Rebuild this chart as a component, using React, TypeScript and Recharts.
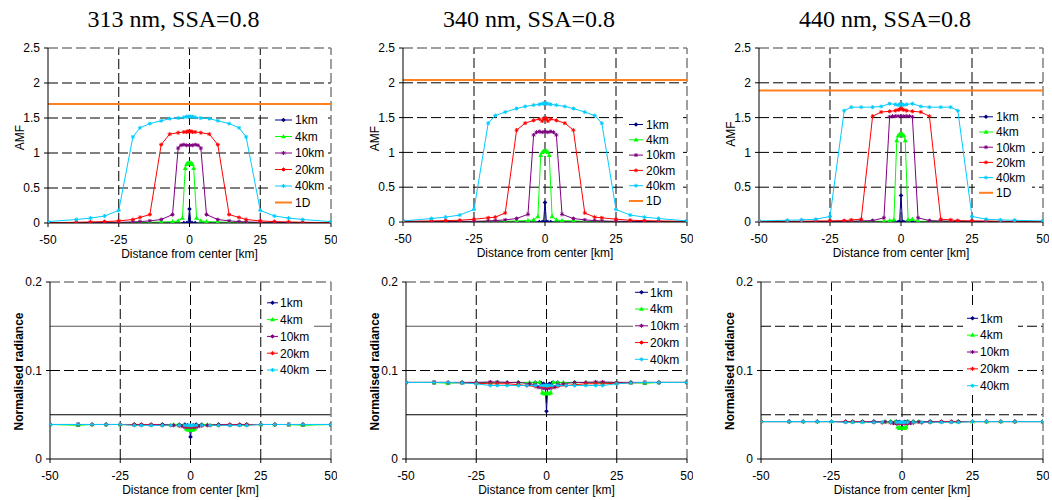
import React from 'react';
import { LineChart, Line, XAxis, YAxis, ReferenceLine } from 'recharts';

// ---------------- text ----------------
const TITLES = ['313 nm, SSA=0.8', '340 nm, SSA=0.8', '440 nm, SSA=0.8'];
const SERIES_NAMES = ['1km', '4km', '10km', '20km', '40km'];
const ONE_D_NAME = '1D';
const X_LABEL = 'Distance from center [km]';
const AMF_LABEL = 'AMF';
const RAD_LABEL = 'Normalised radiance';

// ---------------- ticks / grid ----------------
const X_TICKS = [-50, -25, 0, 25, 50];
const X_GRID = [-25, 0, 25];
const AMF_TICKS = [0, 0.5, 1, 1.5, 2, 2.5];
const AMF_GRID = [0.5, 1, 1.5, 2];
const RAD_TICKS = [0, 0.1, 0.2];
const RAD_GRID = [0.05, 0.1, 0.15];

// ---------------- x positions of each series (km) ----------------
const X_1KM = [-50, -40, -30, -20, -10, -4, -2, -1, -0.5, 0, 0.5, 1, 2, 4, 10, 20, 30, 40, 50];
const X_4KM = [-50, -40, -35, -30, -25, -20, -17.5, -14, -10, -6, -4, -2.5, -1.5, -1, -0.5, 0, 0.5, 1, 1.5, 2.5, 4, 6, 10, 14, 17.5, 20, 25, 30, 35, 40, 50];
const X_10KM = [-50, -40, -35, -30, -25, -20, -17.5, -14, -10, -6, -4, -3, -2, -1, 0, 1, 2, 3, 4, 6, 10, 14, 17.5, 20, 25, 30, 35, 40, 50];
const X_20KM = [-50, -40, -35, -30, -25, -20, -17.5, -14, -10, -7, -4, -2, -1, -0.5, 0, 0.5, 1, 2, 4, 7, 10, 14, 17.5, 20, 25, 30, 35, 40, 50];
const X_40KM = [-50, -40, -35, -30, -25, -20, -17.5, -14, -10, -7, -4, -2, -1, -0.5, 0, 0.5, 1, 2, 4, 7, 10, 14, 17.5, 20, 25, 30, 35, 40, 50];

// ---------------- AMF, 313 nm ----------------
const AMF313_1KM = [0, 0, 0, 0, 0, 0, 0, 0, 0, 0.2, 0, 0, 0, 0, 0, 0, 0, 0, 0];
const AMF313_4KM = [0, 0.005, 0.005, 0.005, 0.005, 0.01, 0.01, 0.01, 0.015, 0.02, 0.03, 0.07, 0.78, 0.84, 0.86, 0.86, 0.86, 0.84, 0.78, 0.07, 0.03, 0.02, 0.015, 0.01, 0.01, 0.01, 0.005, 0.005, 0.005, 0.005, 0];
const AMF313_10KM = [0, 0.005, 0.005, 0.01, 0.01, 0.015, 0.02, 0.03, 0.05, 0.12, 1.07, 1.11, 1.12, 1.11, 1.11, 1.11, 1.12, 1.11, 1.07, 0.12, 0.05, 0.03, 0.02, 0.015, 0.01, 0.01, 0.005, 0.005, 0];
const AMF313_20KM = [0.005, 0.01, 0.015, 0.02, 0.03, 0.05, 0.08, 0.12, 1.12, 1.27, 1.29, 1.3, 1.3, 1.31, 1.31, 1.31, 1.3, 1.3, 1.29, 1.27, 1.12, 0.12, 0.08, 0.05, 0.03, 0.02, 0.015, 0.01, 0.005];
const AMF313_40KM = [0.02, 0.05, 0.07, 0.1, 0.18, 1.23, 1.36, 1.42, 1.46, 1.49, 1.5, 1.51, 1.52, 1.52, 1.52, 1.52, 1.52, 1.51, 1.5, 1.49, 1.46, 1.42, 1.36, 1.23, 0.18, 0.1, 0.07, 0.05, 0.02];

// ---------------- AMF, 340 nm ----------------
const AMF340_1KM = [0, 0, 0, 0, 0, 0, 0, 0, 0, 0.28, 0, 0, 0, 0, 0, 0, 0, 0, 0];
const AMF340_4KM = [0, 0.005, 0.005, 0.005, 0.005, 0.01, 0.01, 0.01, 0.015, 0.02, 0.03, 0.08, 0.96, 1.0, 1.02, 1.02, 1.02, 1.0, 0.96, 0.08, 0.03, 0.02, 0.015, 0.01, 0.01, 0.01, 0.005, 0.005, 0.005, 0.005, 0];
const AMF340_10KM = [0, 0.005, 0.005, 0.01, 0.01, 0.015, 0.02, 0.03, 0.05, 0.11, 1.25, 1.29, 1.3, 1.29, 1.3, 1.29, 1.3, 1.29, 1.25, 0.11, 0.05, 0.03, 0.02, 0.015, 0.01, 0.01, 0.005, 0.005, 0];
const AMF340_20KM = [0.01, 0.015, 0.02, 0.025, 0.04, 0.06, 0.07, 0.13, 1.32, 1.42, 1.46, 1.48, 1.45, 1.49, 1.48, 1.49, 1.45, 1.48, 1.46, 1.42, 1.32, 0.13, 0.07, 0.06, 0.04, 0.025, 0.02, 0.015, 0.01];
const AMF340_40KM = [0.015, 0.05, 0.07, 0.1, 0.18, 1.42, 1.53, 1.58, 1.63, 1.66, 1.68, 1.69, 1.7, 1.7, 1.71, 1.7, 1.7, 1.69, 1.68, 1.66, 1.63, 1.58, 1.53, 1.42, 0.18, 0.1, 0.07, 0.05, 0.015];

// ---------------- AMF, 440 nm ----------------
const AMF440_1KM = [0, 0, 0, 0, 0, 0, 0, 0, 0, 0.38, 0, 0, 0, 0, 0, 0, 0, 0, 0];
const AMF440_4KM = [0, 0.005, 0.005, 0.005, 0.005, 0.005, 0.01, 0.01, 0.01, 0.01, 0.02, 0.03, 1.17, 1.24, 1.26, 1.27, 1.26, 1.24, 1.17, 0.03, 0.04, 0.01, 0.01, 0.01, 0.01, 0.005, 0.005, 0.005, 0.005, 0.005, 0];
const AMF440_10KM = [0, 0.005, 0.005, 0.005, 0.01, 0.01, 0.01, 0.015, 0.02, 0.06, 1.51, 1.52, 1.52, 1.52, 1.52, 1.52, 1.52, 1.52, 1.51, 0.06, 0.02, 0.015, 0.01, 0.01, 0.01, 0.005, 0.005, 0.005, 0];
const AMF440_20KM = [0.005, 0.01, 0.01, 0.015, 0.015, 0.02, 0.03, 0.04, 1.52, 1.58, 1.59, 1.6, 1.61, 1.62, 1.63, 1.62, 1.61, 1.6, 1.59, 1.58, 1.52, 0.04, 0.03, 0.02, 0.015, 0.015, 0.01, 0.01, 0.005];
const AMF440_40KM = [0.015, 0.025, 0.03, 0.04, 0.08, 1.6, 1.65, 1.65, 1.65, 1.66, 1.7, 1.69, 1.68, 1.69, 1.69, 1.69, 1.68, 1.69, 1.7, 1.66, 1.65, 1.65, 1.65, 1.6, 0.08, 0.04, 0.03, 0.025, 0.015];

// ---------------- 1D AMF (313, 340, 440 nm) ----------------
const ONE_D_AMF = [1.7, 2.04, 1.89];

// ---------------- Normalised radiance, 313 nm ----------------
const RAD313_1KM = [0.039, 0.039, 0.039, 0.039, 0.039, 0.039, 0.039, 0.038, 0.037, 0.025, 0.037, 0.038, 0.039, 0.039, 0.039, 0.039, 0.039, 0.039, 0.039];
const RAD313_4KM = [0.039, 0.038, 0.039, 0.039, 0.039, 0.039, 0.039, 0.039, 0.039, 0.039, 0.039, 0.038, 0.034, 0.033, 0.033, 0.033, 0.033, 0.033, 0.034, 0.038, 0.039, 0.039, 0.039, 0.039, 0.039, 0.039, 0.039, 0.039, 0.039, 0.038, 0.039];
const RAD313_10KM = [0.039, 0.039, 0.039, 0.039, 0.039, 0.039, 0.039, 0.039, 0.039, 0.038, 0.038, 0.037, 0.036, 0.036, 0.036, 0.036, 0.036, 0.037, 0.038, 0.038, 0.039, 0.039, 0.039, 0.039, 0.039, 0.039, 0.039, 0.039, 0.039];
const RAD313_20KM = [0.039, 0.039, 0.039, 0.039, 0.039, 0.0385, 0.0385, 0.0385, 0.038, 0.038, 0.0375, 0.037, 0.037, 0.037, 0.037, 0.037, 0.037, 0.037, 0.0375, 0.038, 0.038, 0.0385, 0.0385, 0.0385, 0.039, 0.039, 0.039, 0.039, 0.039];
const RAD313_40KM = [0.039, 0.039, 0.039, 0.039, 0.039, 0.038, 0.038, 0.038, 0.038, 0.038, 0.038, 0.038, 0.038, 0.038, 0.038, 0.038, 0.038, 0.038, 0.038, 0.038, 0.038, 0.038, 0.038, 0.038, 0.039, 0.039, 0.039, 0.039, 0.039];

// ---------------- Normalised radiance, 340 nm ----------------
const RAD340_1KM = [0.0865, 0.0865, 0.0865, 0.0865, 0.0865, 0.0865, 0.086, 0.085, 0.083, 0.054, 0.083, 0.085, 0.086, 0.0865, 0.0865, 0.0865, 0.0865, 0.0865, 0.0865];
const RAD340_4KM = [0.0865, 0.0865, 0.0855, 0.0865, 0.0865, 0.0865, 0.0865, 0.0865, 0.0865, 0.0865, 0.0865, 0.087, 0.075, 0.074, 0.074, 0.074, 0.074, 0.074, 0.075, 0.087, 0.0865, 0.0865, 0.0865, 0.0865, 0.0865, 0.0865, 0.0865, 0.0865, 0.0855, 0.0865, 0.0865];
const RAD340_10KM = [0.0865, 0.0865, 0.0865, 0.0865, 0.0865, 0.087, 0.087, 0.0865, 0.0865, 0.085, 0.084, 0.081, 0.081, 0.08, 0.08, 0.08, 0.081, 0.081, 0.084, 0.085, 0.0865, 0.0865, 0.087, 0.087, 0.0865, 0.0865, 0.0865, 0.0865, 0.0865];
const RAD340_20KM = [0.0865, 0.0865, 0.0865, 0.086, 0.0855, 0.085, 0.085, 0.085, 0.084, 0.083, 0.082, 0.082, 0.082, 0.082, 0.082, 0.082, 0.082, 0.082, 0.082, 0.083, 0.084, 0.085, 0.085, 0.085, 0.0855, 0.086, 0.0865, 0.0865, 0.0865];
const RAD340_40KM = [0.0865, 0.0865, 0.0865, 0.086, 0.085, 0.083, 0.083, 0.083, 0.083, 0.083, 0.083, 0.083, 0.083, 0.083, 0.083, 0.083, 0.083, 0.083, 0.083, 0.083, 0.083, 0.083, 0.083, 0.083, 0.085, 0.086, 0.0865, 0.0865, 0.0865];

// ---------------- Normalised radiance, 440 nm ----------------
const RAD440_1KM = [0.0423, 0.0423, 0.0423, 0.0423, 0.0423, 0.0423, 0.0423, 0.042, 0.041, 0.036, 0.041, 0.042, 0.0423, 0.0423, 0.0423, 0.0423, 0.0423, 0.0423, 0.0423];
const RAD440_4KM = [0.0423, 0.0423, 0.0423, 0.0423, 0.0423, 0.0423, 0.0423, 0.0423, 0.0423, 0.0423, 0.0423, 0.042, 0.036, 0.035, 0.035, 0.035, 0.035, 0.035, 0.036, 0.042, 0.0423, 0.0423, 0.0423, 0.0423, 0.0423, 0.0423, 0.0423, 0.0423, 0.0423, 0.0423, 0.0423];
const RAD440_10KM = [0.0423, 0.0423, 0.0423, 0.0423, 0.0423, 0.0423, 0.0423, 0.0423, 0.0423, 0.042, 0.041, 0.0405, 0.04, 0.04, 0.04, 0.04, 0.04, 0.0405, 0.041, 0.042, 0.0423, 0.0423, 0.0423, 0.0423, 0.0423, 0.0423, 0.0423, 0.0423, 0.0423];
const RAD440_20KM = [0.0423, 0.0423, 0.0423, 0.0423, 0.0423, 0.042, 0.042, 0.042, 0.0415, 0.041, 0.041, 0.041, 0.041, 0.041, 0.041, 0.041, 0.041, 0.041, 0.041, 0.041, 0.0415, 0.042, 0.042, 0.042, 0.0423, 0.0423, 0.0423, 0.0423, 0.0423];
const RAD440_40KM = [0.0423, 0.0423, 0.0423, 0.0423, 0.0423, 0.0415, 0.0415, 0.0415, 0.0415, 0.0415, 0.0415, 0.0415, 0.0415, 0.0415, 0.0415, 0.0415, 0.0415, 0.0415, 0.0415, 0.0415, 0.0415, 0.0415, 0.0415, 0.0415, 0.0423, 0.0423, 0.0423, 0.0423, 0.0423];

// ---------------- style ----------------
const COLORS = ['#000080', '#00FF00', '#800080', '#FF0000', '#00CCFF'];
const SHAPES = ['diamond', 'triangle', 'star', 'star', 'star'];
const ONE_D_COLOR = '#FF8020';
const SANS = '"Liberation Sans", Arial, Helvetica, sans-serif';
const SERIF = '"Liberation Serif", "Times New Roman", serif';
const DASH = '10 4';

const XS = [X_1KM, X_4KM, X_10KM, X_20KM, X_40KM];
const AMF_Y = [
  [AMF313_1KM, AMF313_4KM, AMF313_10KM, AMF313_20KM, AMF313_40KM],
  [AMF340_1KM, AMF340_4KM, AMF340_10KM, AMF340_20KM, AMF340_40KM],
  [AMF440_1KM, AMF440_4KM, AMF440_10KM, AMF440_20KM, AMF440_40KM],
];
const RAD_Y = [
  [RAD313_1KM, RAD313_4KM, RAD313_10KM, RAD313_20KM, RAD313_40KM],
  [RAD340_1KM, RAD340_4KM, RAD340_10KM, RAD340_20KM, RAD340_40KM],
  [RAD440_1KM, RAD440_4KM, RAD440_10KM, RAD440_20KM, RAD440_40KM],
];

const zip = (xs: number[], ys: number[]) => xs.map((x, i) => ({ x, y: ys[i] }));

type Plot = { l: number; t: number; r: number; b: number };
const TOP_PLOTS: Plot[] = [
  { l: 48, t: 48, r: 331, b: 223 },
  { l: 403, t: 48, r: 687, b: 222 },
  { l: 759, t: 48, r: 1043, b: 222 },
];
const BOTTOM_PLOTS: Plot[] = [
  { l: 50, t: 282, r: 331, b: 459 },
  { l: 406, t: 282, r: 687, b: 459 },
  { l: 761, t: 282, r: 1043, b: 459 },
];
const AMF_LABEL_Y = [137.5, 138.5, 134];
const RAD_LABEL_Y = [371.5, 371.5, 371];

type Leg = { bx: number; by: number; bw: number; bh: number; lx1: number; lx2: number; tx: number; y0: number; step: number };
const TOP_LEGENDS: Leg[] = [
  { bx: 271, by: 111, bw: 56, bh: 100, lx1: 275, lx2: 292, tx: 295, y0: 120, step: 16.5 },
  { bx: 625, by: 116, bw: 56, bh: 94, lx1: 629, lx2: 643, tx: 646, y0: 124.5, step: 15.3 },
  { bx: 975, by: 108, bw: 57, bh: 94, lx1: 979, lx2: 993, tx: 996, y0: 116.8, step: 15.2 },
];
const BOTTOM_LEGENDS: Leg[] = [
  { bx: 263, by: 293, bw: 51, bh: 86, lx1: 267, lx2: 278, tx: 280, y0: 302.8, step: 16.8 },
  { bx: 633, by: 283, bw: 51, bh: 85, lx1: 635, lx2: 648, tx: 650, y0: 292.3, step: 16.75 },
  { bx: 963, by: 309, bw: 55, bh: 86, lx1: 967, lx2: 978, tx: 980, y0: 318.3, step: 16.85 },
];

type GridStyle = { stroke: string; dash?: string; w: number };
const RAD_GRID_STYLES: GridStyle[][] = [
  [{ stroke: '#000', w: 1 }, { stroke: '#000', dash: DASH, w: 1 }, { stroke: '#555', w: 1 }],
  [{ stroke: '#000', w: 1 }, { stroke: '#000', dash: DASH, w: 1 }, { stroke: '#555', w: 1 }],
  [{ stroke: '#000', dash: DASH, w: 1 }, { stroke: '#000', dash: DASH, w: 1 }, { stroke: '#000', dash: DASH, w: 1 }],
];

function markerNode(shape: string, color: string, cx: number, cy: number, key?: any) {
  if (shape === 'diamond') {
    return <path key={key} d={`M${cx},${cy - 2.3}L${cx + 2.3},${cy}L${cx},${cy + 2.3}L${cx - 2.3},${cy}Z`} fill={color} />;
  }
  if (shape === 'triangle') {
    return <path key={key} d={`M${cx},${cy - 2.6}L${cx + 2.5},${cy + 1.7}L${cx - 2.5},${cy + 1.7}Z`} fill={color} />;
  }
  const s = 2.0;
  const d = 1.4;
  return (
    <path
      key={key}
      d={`M${cx - s},${cy}L${cx + s},${cy}M${cx},${cy - s}L${cx},${cy + s}M${cx - d},${cy - d}L${cx + d},${cy + d}M${cx - d},${cy + d}L${cx + d},${cy - d}`}
      stroke={color}
      strokeWidth={1}
      fill="none"
    />
  );
}

const makeDot = (shape: string, color: string) => (props: any) => {
  const { cx, cy, index } = props;
  if (cx == null || cy == null || isNaN(cx) || isNaN(cy)) return <g key={`e${index}`} />;
  return markerNode(shape, color, cx, cy, `m${index}`);
};

const tickStyle = { fontSize: 12, fill: '#000', fontFamily: SANS };

function Panel({ plot, kind, idx }: { plot: Plot; kind: 'amf' | 'rad'; idx: number }) {
  const W = plot.r - plot.l + 54;
  const H = plot.b - plot.t + 40;
  const ys = kind === 'amf' ? AMF_Y[idx] : RAD_Y[idx];
  const yTicks = kind === 'amf' ? AMF_TICKS : RAD_TICKS;
  const yMax = yTicks[yTicks.length - 1];
  return (
    <div style={{ position: 'absolute', left: plot.l - 48, top: plot.t - 10, width: W, height: H }}>
      <LineChart width={W} height={H} margin={{ top: 10, right: 6, bottom: 10, left: 8 }}>
        <XAxis
          type="number"
          dataKey="x"
          domain={[-50, 50]}
          ticks={X_TICKS}
          interval={0}
          allowDataOverflow
          height={20}
          tickSize={4}
          tickMargin={8}
          tick={tickStyle}
          axisLine={{ stroke: '#000', strokeWidth: 1 }}
          tickLine={{ stroke: '#000' }}
        />
        <YAxis
          type="number"
          domain={[0, yMax]}
          ticks={yTicks}
          interval={0}
          allowDataOverflow
          width={40}
          tickSize={4}
          tickMargin={4}
          tick={tickStyle}
          axisLine={{ stroke: '#000', strokeWidth: 1 }}
          tickLine={{ stroke: '#000' }}
        />
        {X_GRID.map((v) => (
          <ReferenceLine key={`gx${v}`} x={v} stroke="#000" strokeDasharray={DASH} strokeWidth={1} />
        ))}
        {kind === 'amf'
          ? AMF_GRID.map((v) => <ReferenceLine key={`gy${v}`} y={v} stroke="#000" strokeDasharray={DASH} strokeWidth={1} />)
          : RAD_GRID.map((v, i) => (
              <ReferenceLine
                key={`gy${v}`}
                y={v}
                stroke={RAD_GRID_STYLES[idx][i].stroke}
                strokeDasharray={RAD_GRID_STYLES[idx][i].dash}
                strokeWidth={RAD_GRID_STYLES[idx][i].w}
              />
            ))}
        <ReferenceLine y={yMax} stroke="#808080" strokeDasharray={DASH} strokeWidth={1.5} />
        <ReferenceLine x={50} stroke="#808080" strokeDasharray={DASH} strokeWidth={1.5} />
        {SERIES_NAMES.map((name, i) => (
          <Line
            key={name}
            name={name}
            data={zip(XS[i], ys[i])}
            dataKey="y"
            type="linear"
            stroke={COLORS[i]}
            strokeWidth={1}
            dot={makeDot(SHAPES[i], COLORS[i])}
            activeDot={false}
            isAnimationActive={false}
          />
        ))}
        {kind === 'amf' && (
          <Line
            name={ONE_D_NAME}
            data={zip([-50, 50], [ONE_D_AMF[idx], ONE_D_AMF[idx]])}
            dataKey="y"
            type="linear"
            stroke={ONE_D_COLOR}
            strokeWidth={2}
            dot={false}
            activeDot={false}
            isAnimationActive={false}
          />
        )}
      </LineChart>
    </div>
  );
}

function LegendBox({ leg, withOneD }: { leg: Leg; withOneD: boolean }) {
  const items = SERIES_NAMES.map((n, i) => ({ name: n, color: COLORS[i], shape: SHAPES[i], w: 1 }));
  if (withOneD) items.push({ name: ONE_D_NAME, color: ONE_D_COLOR, shape: '', w: 2 });
  return (
    <g>
      <rect x={leg.bx} y={leg.by} width={leg.bw} height={leg.bh} fill="#fff" />
      {items.map((it, i) => {
        const cy = leg.y0 + i * leg.step;
        return (
          <g key={it.name}>
            <line x1={leg.lx1} x2={leg.lx2} y1={cy} y2={cy} stroke={it.color} strokeWidth={it.w} />
            {it.shape ? markerNode(it.shape, it.color, (leg.lx1 + leg.lx2) / 2, cy) : null}
            <text x={leg.tx} y={cy} dy="0.36em" fontSize={12} fontFamily={SANS} fill="#000">
              {it.name}
            </text>
          </g>
        );
      })}
    </g>
  );
}

export default function App() {
  return (
    <div style={{ position: 'absolute', left: 0, top: 0, width: 1052, height: 500, background: '#fff', fontFamily: SANS, overflow: 'hidden' }}>
      {TOP_PLOTS.map((p, i) => (
        <Panel key={`t${i}`} plot={p} kind="amf" idx={i} />
      ))}
      {BOTTOM_PLOTS.map((p, i) => (
        <Panel key={`b${i}`} plot={p} kind="rad" idx={i} />
      ))}
      <svg width={1052} height={500} style={{ position: 'absolute', left: 0, top: 0, pointerEvents: 'none' }}>
        {TOP_PLOTS.map((p, i) => (
          <g key={`tt${i}`}>
            <text x={(p.l + p.r) / 2 - 16} y={26.5} textAnchor="middle" fontSize={24} fontFamily={SERIF} fill="#000">
              {TITLES[i]}
            </text>
            <text x={(p.l + p.r) / 2} y={p.b + 35} textAnchor="middle" fontSize={12} fontFamily={SANS} fill="#000">
              {X_LABEL}
            </text>
            <text transform={`translate(${p.l - 24},${AMF_LABEL_Y[i]}) rotate(-90)`} textAnchor="middle" fontSize={12} fontFamily={SANS} fill="#000">
              {AMF_LABEL}
            </text>
            <LegendBox leg={TOP_LEGENDS[i]} withOneD />
          </g>
        ))}
        {BOTTOM_PLOTS.map((p, i) => (
          <g key={`bb${i}`}>
            <text x={(p.l + p.r) / 2} y={p.b + 35} textAnchor="middle" fontSize={12} fontFamily={SANS} fill="#000">
              {X_LABEL}
            </text>
            <text transform={`translate(${p.l - 27.5},${RAD_LABEL_Y[i]}) rotate(-90)`} textAnchor="middle" fontSize={12} fontWeight="bold" fontFamily={SANS} fill="#000">
              {RAD_LABEL}
            </text>
            <LegendBox leg={BOTTOM_LEGENDS[i]} withOneD={false} />
          </g>
        ))}
      </svg>
    </div>
  );
}
